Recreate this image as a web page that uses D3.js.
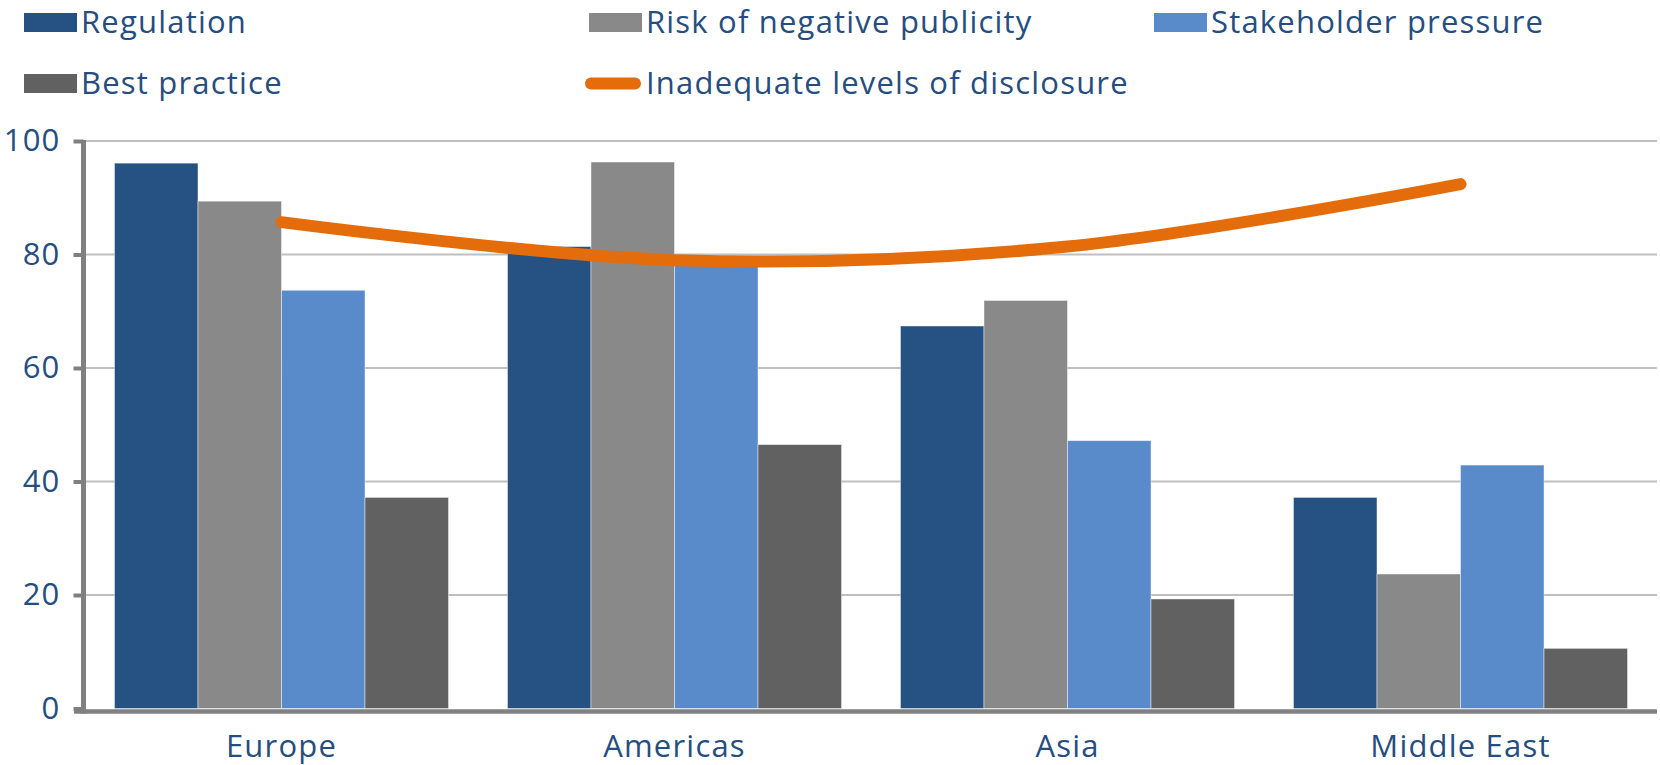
<!DOCTYPE html>
<html>
<head>
<meta charset="utf-8">
<script src="https://cdn.jsdelivr.net/npm/d3@7"></script>
<style>
  html, body { margin: 0; padding: 0; background: #ffffff; }
  svg { display: block; }
  text { font-family: "Open Sans", "DejaVu Sans", sans-serif; fill: #264d80; letter-spacing: 1.2px; }
</style>
</head>
<body>
<svg id="chart" width="1660" height="765"></svg>
<script>
// Drivers of disclosure, by region (% of respondents)
const regions = ["Europe", "Americas", "Asia", "Middle East"];
const seriesNames = ["Regulation", "Risk of negative publicity", "Stakeholder pressure", "Best practice"];
const regulation = [96.1, 81.4, 67.4, 37.2];
const negativePublicity = [89.4, 96.3, 71.9, 23.7];
const stakeholderPressure = [73.7, 79.0, 47.2, 42.9];
const bestPractice = [37.2, 46.5, 19.3, 10.6];
const lineName = "Inadequate levels of disclosure";
const inadequateDisclosure = [85.7, 79.0, 81.4, 92.4];
const yTicks = [0, 20, 40, 60, 80, 100];

const barSeries = [regulation, negativePublicity, stakeholderPressure, bestPractice];
const barColors = ["#265283", "#898989", "#598bcb", "#616161"];
const lineColor = "#e46c0a";
const fontSize = "31px";

const svg = d3.select("#chart");

const plot = { left: 85, right: 1657, top: 141, bottom: 708.5 };

const y = d3.scaleLinear().domain([0, 100]).range([plot.bottom, plot.top]);
const x0 = d3.scaleBand().domain(regions).range([plot.left, plot.right]).padding(0);
const x1 = d3.scaleBand().domain(seriesNames).range([0, x0.bandwidth()])
  .paddingInner(0).paddingOuter(0.353);

// gridlines
svg.append("g")
  .selectAll("line")
  .data(yTicks.filter(d => d > 0))
  .join("line")
  .attr("x1", plot.left).attr("x2", plot.right)
  .attr("y1", d => y(d)).attr("y2", d => y(d))
  .attr("stroke", "#bfbfbf").attr("stroke-width", 2);

// bars
const rows = regions.map((r, i) => ({
  region: r,
  values: seriesNames.map((s, j) => ({ series: s, value: barSeries[j][i], color: barColors[j] }))
}));

svg.append("g")
  .selectAll("g")
  .data(rows)
  .join("g")
  .attr("transform", d => `translate(${x0(d.region)},0)`)
  .selectAll("rect")
  .data(d => d.values)
  .join("rect")
  .attr("x", d => x1(d.series))
  .attr("width", x1.bandwidth())
  .attr("y", d => y(d.value))
  .attr("height", d => y(0) - y(d.value))
  .attr("fill", d => d.color)
  .attr("stroke", "rgba(255,255,255,0.55)")
  .attr("stroke-width", 0.8);

// y axis
const yAxis = d3.axisLeft(y).tickValues(yTicks).tickSize(10).tickPadding(13);
const yg = svg.append("g").attr("transform", `translate(${plot.left - 1.5},0)`).call(yAxis);
yg.select(".domain").attr("stroke", "#808080").attr("stroke-width", 5)
  .attr("d", `M0,${plot.top - 1}V${plot.bottom + 5}`);
yg.selectAll(".tick line").attr("stroke", "#808080").attr("stroke-width", 4);
yg.selectAll(".tick text")
  .style("font-family", "'Open Sans', 'DejaVu Sans', sans-serif")
  .style("font-size", fontSize).attr("fill", "#264d80");
yg.attr("font-family", null).attr("font-size", null);

// x axis
const xAxis = d3.axisBottom(x0).tickSize(0).tickPadding(23);
const xg = svg.append("g").attr("transform", `translate(0,${plot.bottom + 3})`).call(xAxis);
xg.select(".domain").attr("stroke", "#808080").attr("stroke-width", 4.5)
  .attr("d", `M${plot.left - 11},0H${plot.right}`);
xg.selectAll(".tick text")
  .style("font-family", "'Open Sans', 'DejaVu Sans', sans-serif")
  .style("font-size", fontSize).attr("fill", "#264d80");
xg.attr("font-family", null).attr("font-size", null);

// smoothed line
const line = d3.line()
  .x((d, i) => x0(regions[i]) + x0.bandwidth() / 2)
  .y(d => y(d))
  .curve(d3.curveCardinal.tension(0));

svg.append("path")
  .datum(inadequateDisclosure)
  .attr("d", line)
  .attr("fill", "none")
  .attr("stroke", lineColor)
  .attr("stroke-width", 12)
  .attr("stroke-linecap", "round")
  .attr("stroke-linejoin", "round");

// legend
const legendItems = seriesNames.map((s, i) => ({ name: s, color: barColors[i], type: "bar" }))
  .concat([{ name: lineName, color: lineColor, type: "line" }]);
const colW = 565, rowH = 61, lx = 24, ly = 13;

const lg = svg.append("g").selectAll("g")
  .data(legendItems)
  .join("g")
  .attr("transform", (d, i) => `translate(${lx + (i % 3) * colW},${ly + Math.floor(i / 3) * rowH})`);

lg.filter(d => d.type === "bar").append("rect")
  .attr("x", 0).attr("y", 0).attr("width", 53).attr("height", 19)
  .attr("fill", d => d.color);

lg.filter(d => d.type === "line").append("line")
  .attr("x1", 2).attr("x2", 46).attr("y1", 9.5).attr("y2", 9.5)
  .attr("stroke", d => d.color).attr("stroke-width", 12).attr("stroke-linecap", "round");

lg.append("text")
  .attr("x", 57).attr("y", 20)
  .style("font-size", fontSize)
  .text(d => d.name);
</script>
</body>
</html>
